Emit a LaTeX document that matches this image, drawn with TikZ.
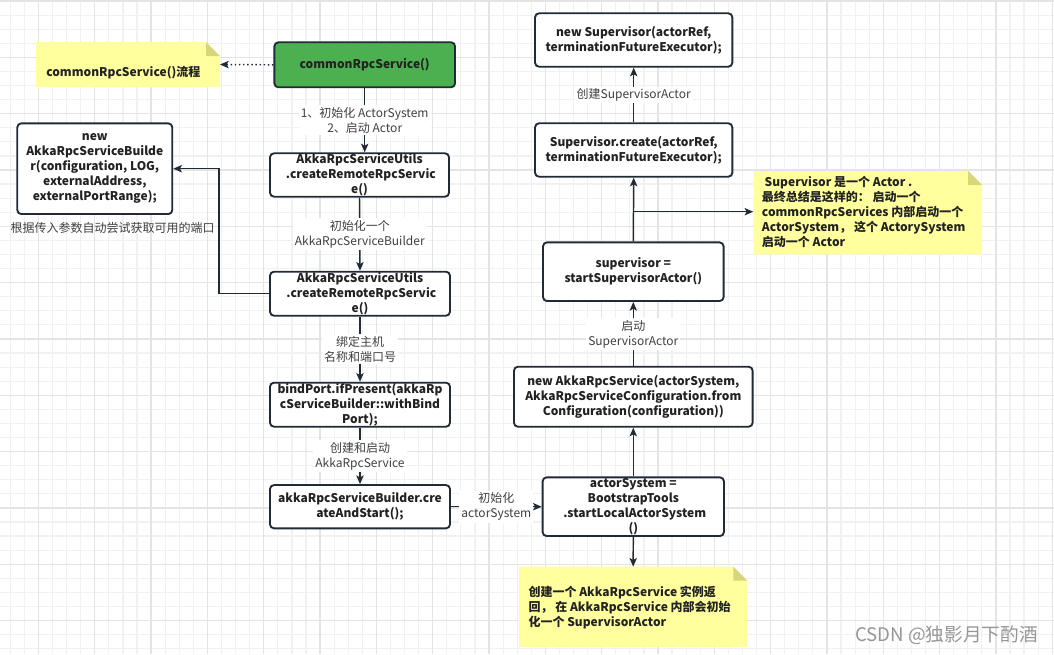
\documentclass[tikz,border=0pt]{standalone}
\usepackage{fontspec}
\setmainfont{Noto Sans CJK SC}
\usetikzlibrary{arrows.meta}
\definecolor{bd}{RGB}{33,43,54}
\definecolor{tx}{RGB}{34,34,34}
\definecolor{lbl}{RGB}{64,64,64}
\definecolor{grn}{RGB}{76,175,80}
\definecolor{nfill}{RGB}{255,255,158}
\definecolor{nfold}{RGB}{214,214,122}
\definecolor{gmin}{RGB}{241,241,241}
\definecolor{gmaj}{RGB}{228,228,228}
\definecolor{wmc}{RGB}{150,150,150}
\newcommand\fs{\fontsize{9}{11.25}\selectfont}
\def\u{0.75pt}
\begin{document}
\begin{tikzpicture}[x=0.75pt,y=-0.75pt,
  box/.style={draw=bd,line width=1.4pt,rounded corners=3pt,fill=white,inner sep=0pt},
  btxt/.style={font=\fs\bfseries,text=tx,align=center,inner sep=0pt},
  ntxt/.style={font=\fs\bfseries,text=tx,align=left,inner sep=0pt},
  elab/.style={font=\fs,text=lbl,fill=white,align=center,inner sep=1.5pt},
  conn/.style={draw=bd,line width=1.1pt,-{Stealth[length=6.5pt,width=5.5pt,inset=1.5pt]}},
  notebox/.style={inner sep=0pt,outer sep=0pt},
]
\useasboundingbox (0,0) rectangle (1054,654);
\fill[white] (0,0) rectangle (1054,654);
% grid
\foreach \k in {0,...,74} { \pgfmathsetmacro\xx{10.3+14.08*\k} \draw[gmin,line width=0.9pt] (\xx,0) -- (\xx,654); }
\foreach \k in {0,...,46} { \pgfmathsetmacro\yy{1.04+14.08*\k} \draw[gmin,line width=0.9pt] (0,\yy) -- (1054,\yy); }
\foreach \k in {0,...,18} { \pgfmathsetmacro\xx{38.46+56.32*\k} \draw[gmaj,line width=1pt] (\xx,0) -- (\xx,654); }
\foreach \k in {0,...,11} { \pgfmathsetmacro\yy{1.04+56.32*\k} \draw[gmaj,line width=1pt] (0,\yy) -- (1054,\yy); }

% boxes
\node[box,fill=grn,minimum width=180.7*\u,minimum height=45*\u] (g) at (364.7,64.8) {};
\node[btxt] (gt) at (g.center) {commonRpcService()};

\node[box,minimum width=155*\u,minimum height=90.7*\u] (lbx) at (94.8,168.7) {};
\node[btxt] (lbxt) at (lbx.center) {new\\AkkaRpcServiceBuilde\\r(configuration, LOG,\\externalAddress,\\externalPortRange);};

\node[box,minimum width=179*\u,minimum height=43.4*\u] (b2) at (359.5,175) {};
\node[btxt] (b2t) at (b2.center) {AkkaRpcServiceUtils\\\ .createRemoteRpcServic\\e()};

\node[box,minimum width=180*\u,minimum height=44*\u] (b3) at (360,293.7) {};
\node[btxt] (b3t) at (b3.center) {AkkaRpcServiceUtils\\\ .createRemoteRpcServic\\e()};

\node[box,minimum width=180*\u,minimum height=44*\u] (b4) at (360,404.7) {};
\node[btxt] (b4t) at (b4.center) {bindPort.ifPresent(akkaRp\\cServiceBuilder::withBind\\Port);};

\node[box,minimum width=180*\u,minimum height=43.3*\u] (b5) at (360,506.7) {};
\node[btxt] (b5t) at (b5.center) {akkaRpcServiceBuilder.cre\\ateAndStart();};

\node[box,minimum width=181.3*\u,minimum height=58.7*\u] (b6) at (633.3,506.7) {};
\node[btxt] (b6t) at (b6.center) {actorSystem =\\BootstrapTools\\\ .startLocalActorSystem\\()};

\node[box,minimum width=238.7*\u,minimum height=60*\u] (b7) at (633.3,396.7) {};
\node[btxt] (b7t) at (b7.center) {new AkkaRpcService(actorSystem,\\AkkaRpcServiceConfiguration.from\\Configuration(configuration))};

\node[box,minimum width=180.6*\u,minimum height=58.7*\u] (b8) at (633.3,271.7) {};
\node[btxt] (b8t) at (b8.center) {supervisor =\\startSupervisorActor()};

\node[box,minimum width=197.3*\u,minimum height=53.4*\u] (b9) at (633.7,150) {};
\node[btxt] (b9t) at (b9.center) {Supervisor.create(actorRef,\\terminationFutureExecutor);};

\node[box,minimum width=197.3*\u,minimum height=53.4*\u] (b10) at (633.7,40) {};
\node[btxt] (b10t) at (b10.center) {new Supervisor(actorRef,\\terminationFutureExecutor);};

% notes
\node[notebox,minimum width=184*\u,minimum height=45*\u] (n1) at (128,64.5) {};
\fill[nfill] (n1.south west) -- (n1.north west) -- ([xshift=-10.5pt]n1.north east) -- ([yshift=-10.5pt]n1.north east) -- (n1.south east) -- cycle;
\fill[nfold] ([xshift=-10.5pt]n1.north east) -- ([yshift=-10.5pt]n1.north east) -- ([xshift=-10.5pt,yshift=-10.5pt]n1.north east) -- cycle;
\node[ntxt,anchor=west] (n1t) at (46,72.7) {commonRpcService()流程};

\node[notebox,minimum width=228.7*\u,minimum height=83.3*\u] (n3) at (867.65,212.65) {};
\fill[nfill] (n3.south west) -- (n3.north west) -- ([xshift=-10.5pt]n3.north east) -- ([yshift=-10.5pt]n3.north east) -- (n3.south east) -- cycle;
\fill[nfold] ([xshift=-10.5pt]n3.north east) -- ([yshift=-10.5pt]n3.north east) -- ([xshift=-10.5pt,yshift=-10.5pt]n3.north east) -- cycle;
\node[ntxt,anchor=west] (n3t) at (761.7,211.7) {\ Supervisor 是一个 Actor .\\最终总结是这样的： 启动一个\\commonRpcServices 内部启动一个\\ActorSystem， 这个 ActorySystem\\启动一个 Actor};

\node[notebox,minimum width=228.3*\u,minimum height=80.3*\u] (n4) at (633.15,606.85) {};
\fill[nfill] (n4.south west) -- (n4.north west) -- ([xshift=-10.5pt]n4.north east) -- ([yshift=-10.5pt]n4.north east) -- (n4.south east) -- cycle;
\fill[nfold] ([xshift=-10.5pt]n4.north east) -- ([yshift=-10.5pt]n4.north east) -- ([xshift=-10.5pt,yshift=-10.5pt]n4.north east) -- cycle;
\node[ntxt,anchor=west] (n4t) at (528.3,607.3) {创建一个 AkkaRpcService 实例返\\回， 在 AkkaRpcService 内部会初始\\化一个 SupervisorActor};

\node[font=\fs,text=lbl,inner sep=0pt] (lbnote) at (112.5,228.3) {根据传入参数自动尝试获取可用的端口};

% connectors
\draw[conn,dotted] (g.west) -- (n1.east);
\draw[conn] (g.south) -- node[elab]{1、初始化 ActorSystem\\2、启动 Actor} (g.south |- b2.north);
\draw[conn] (b2.south) -- node[elab]{初始化一个\\AkkaRpcServiceBuilder} (b3.north);
\draw[conn] (b3.south) -- node[elab]{绑定主机\\名称和端口号} (b4.north);
\draw[conn] (b4.south) -- node[elab]{创建和启动\\AkkaRpcService} (b5.north);
\draw[conn] (b3.west) -- ++(-50,0) |- (lbx.east);
\draw[conn] (b5.east) -- node[elab]{初始化\\actorSystem} (b6.west);
\draw[conn] (b6.south) -- (n4.north);
\draw[conn] (b6.north) -- (b7.south);
\draw[conn] (b7.north) -- node[elab]{启动\\SupervisorActor} (b8.south);
\draw[conn] (b8.north) -- (b9.south);
\coordinate (br) at (633.3,211.7);
\draw[conn] (br) -- (br -| n3.west);
\draw[conn] (b9.north) -- node[elab]{创建SupervisorActor} (b10.south);

\node[font=\fontsize{14}{16}\selectfont,text=wmc,inner sep=0pt,anchor=east] (wm) at (1038,635) {CSDN @独影月下酌酒};
\end{tikzpicture}
\end{document}
